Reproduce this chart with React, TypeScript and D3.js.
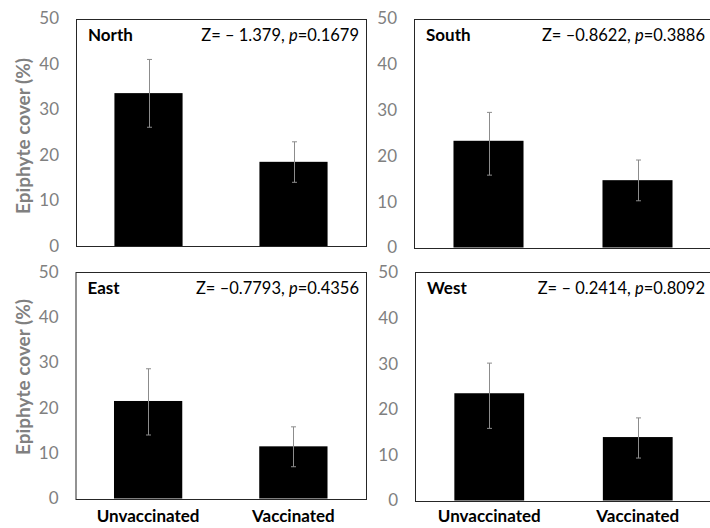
import React, { useEffect, useRef } from 'react'
import * as d3 from 'd3'

const WIDTH = 710
const HEIGHT = 528
const FONT = 'Lato, "Open Sans", sans-serif'
const AXIS_GREY = '#808080'

// data
const categories = ['Unvaccinated', 'Vaccinated']
const regions = ['North', 'South', 'East', 'West']
const stats = ['Z= \u2013 1.379', 'Z= \u20130.8622', 'Z= \u20130.7793', 'Z= \u2013 0.2414']
const pValues = ['0.1679', '0.3886', '0.4356', '0.8092']
const means = [
  [33.6, 18.5],
  [23.3, 14.7],
  [21.5, 11.5],
  [23.5, 13.9],
]
const errLow = [
  [26.1, 14.0],
  [15.8, 10.2],
  [14.0, 7.0],
  [15.8, 9.3],
]
const errHigh = [
  [41.0, 22.9],
  [29.5, 19.1],
  [28.6, 15.8],
  [30.1, 18.1],
]
const yTicks = [0, 10, 20, 30, 40, 50]

// panel frames: left, top, right, bottom (zero line)
const panels = [
  { x0: 76, y0: 18.5, x1: 366, y1: 246 },
  { x0: 414, y0: 18.5, x1: 712, y1: 247.5 },
  { x0: 75.5, y0: 271.7, x1: 366, y1: 498.5 },
  { x0: 415, y0: 272.3, x1: 712, y1: 500.5 },
]

export default function App() {
  const ref = useRef<SVGSVGElement>(null)

  useEffect(() => {
    const svg = d3.select(ref.current)
    svg.selectAll('*').remove()

    panels.forEach((p, i) => {
      const g = svg.append('g')

      const x = d3.scaleBand()
        .domain(categories)
        .range([p.x0, p.x1])
        .paddingInner(0.53)
        .paddingOuter(0.265)

      const y = d3.scaleLinear()
        .domain([0, 50])
        .range([p.y1, p.y0])

      // frame
      g.append('rect')
        .attr('x', p.x0 + 0.5)
        .attr('y', Math.round(p.y0) + 0.5)
        .attr('width', p.x1 - p.x0)
        .attr('height', Math.round(p.y1) - Math.round(p.y0))
        .attr('fill', 'none')
        .attr('stroke', '#262626')
        .attr('stroke-width', 1)

      // y tick labels
      g.selectAll('text.tick')
        .data(yTicks)
        .join('text')
          .attr('class', 'tick')
          .attr('x', p.x0 - 17)
          .attr('y', d => y(d))
          .attr('dy', '0.35em')
          .attr('text-anchor', 'end')
          .attr('fill', AXIS_GREY)
          .attr('font-family', FONT)
          .attr('font-size', 17)
          .text(d => d)

      // bars
      g.selectAll('rect.bar')
        .data(categories)
        .join('rect')
          .attr('class', 'bar')
          .attr('x', d => x(d)!)
          .attr('y', (d, j) => y(means[i][j]))
          .attr('width', x.bandwidth())
          .attr('height', (d, j) => y(0) - y(means[i][j]))
          .attr('fill', '#000')

      // error bars
      categories.forEach((c, j) => {
        const cx = Math.round(x(c)! + x.bandwidth() / 2) + 0.5
        const eb = g.append('g')
          .attr('stroke', '#8c8c8c')
          .attr('stroke-width', 1)
        eb.append('line')
          .attr('x1', cx).attr('x2', cx)
          .attr('y1', y(errLow[i][j])).attr('y2', y(errHigh[i][j]))
        ;[errLow[i][j], errHigh[i][j]].forEach(v => {
          eb.append('line')
            .attr('x1', cx - 2.5).attr('x2', cx + 2.5)
            .attr('y1', y(v)).attr('y2', y(v))
        })
      })

      // region name
      g.append('text')
        .attr('x', p.x0 + 12)
        .attr('y', p.y0 + 22)
        .attr('font-family', FONT)
        .attr('font-size', 17)
        .attr('font-weight', 'bold')
        .attr('fill', '#000')
        .text(regions[i])

      // statistic
      const st = g.append('text')
        .attr('x', p.x1 - 7)
        .attr('y', p.y0 + 22)
        .attr('text-anchor', 'end')
        .attr('font-family', FONT)
        .attr('font-size', 16.5)
        .attr('fill', '#000')
      st.append('tspan').text(stats[i] + ', ')
      st.append('tspan').attr('font-style', 'italic').text('p')
      st.append('tspan').text('=' + pValues[i])

      // category labels on the bottom row
      if (i >= 2) {
        g.selectAll('text.cat')
          .data(categories)
          .join('text')
            .attr('class', 'cat')
            .attr('x', d => x(d)! + x.bandwidth() / 2)
            .attr('y', 522)
            .attr('text-anchor', 'middle')
            .attr('font-family', FONT)
            .attr('font-size', 17)
            .attr('font-weight', 'bold')
            .attr('fill', '#000')
            .text(d => d)
      }
    })

    // y axis titles
    ;[136, 377].forEach(cy => {
      svg.append('text')
        .attr('transform', `translate(30, ${cy}) rotate(-90)`)
        .attr('text-anchor', 'middle')
        .attr('font-family', FONT)
        .attr('font-size', 19)
        .attr('font-weight', 'bold')
        .attr('fill', AXIS_GREY)
        .text('Epiphyte cover (%)')
    })
  }, [])

  return (
    <svg
      ref={ref}
      width={WIDTH}
      height={HEIGHT}
      style={{ position: 'absolute', left: 0, top: 0, background: '#fff' }}
    />
  )
}
